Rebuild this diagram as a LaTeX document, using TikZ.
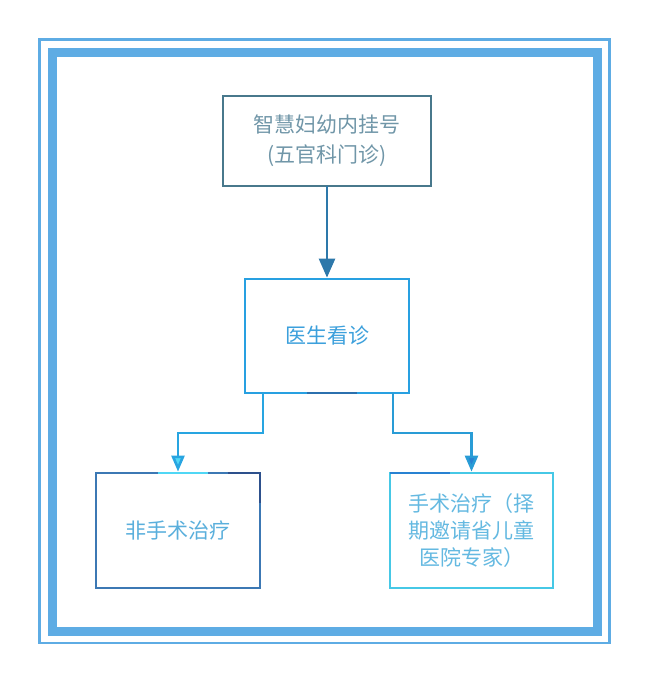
\documentclass[tikz,border=0pt]{standalone}
\usepackage{fontspec}
\newfontfamily\cjk{Noto Sans CJK SC}
\usetikzlibrary{arrows.meta}
\definecolor{frameblue}{RGB}{94,172,228}
\definecolor{topline}{RGB}{72,120,140}
\definecolor{toptext}{RGB}{112,150,168}
\definecolor{midline}{RGB}{40,160,225}
\definecolor{midtext}{RGB}{60,160,220}
\definecolor{leftline}{RGB}{60,120,180}
\definecolor{lefttext}{RGB}{90,175,220}
\definecolor{rightline}{RGB}{70,200,230}
\definecolor{righttext}{RGB}{100,185,225}
\definecolor{arrowA}{RGB}{45,120,170}
\definecolor{arrowB}{RGB}{40,165,225}
\definecolor{cyanhi}{RGB}{80,215,245}
\definecolor{navy}{RGB}{45,80,140}
\definecolor{bluehi}{RGB}{40,130,210}
\tikzset{
  box/.style={draw, line width=2.8pt, fill=white, inner sep=0pt, outer sep=0pt,
    font=\cjk\fontsize{21}{30}\selectfont, align=center},
  link/.style={line width=2.6pt, shorten >=1.4pt},
  accent/.style={line width=2.8pt},
}
\begin{document}
\begin{tikzpicture}[x=1pt,y=-1pt]
\useasboundingbox (0,0) rectangle (650,685);
% frames
\draw[frameblue, line width=2.5pt] (39.5,39.5) rectangle (609.5,643);
\draw[frameblue, line width=9pt] (52.5,52.5) rectangle (597,631);
% nodes
\node[box, draw=topline, text=toptext, minimum width=208pt, minimum height=90pt]
  (reg) at (327,141) {智慧妇幼内挂号\\(五官科门诊)};
\node[box, draw=midline, text=midtext, minimum width=164pt, minimum height=114pt]
  (doc) at (327,336) {医生看诊};
\node[box, draw=leftline, text=lefttext, minimum width=164pt, minimum height=115pt]
  (non) at (178,530.5) {非手术治疗};
\node[box, draw=rightline, text=righttext, minimum width=163pt, minimum height=115pt,
  font=\cjk\fontsize{21}{27}\selectfont]
  (surg) at (471.5,530.5) {手术治疗（择\\期邀请省儿童\\医院专家）};
% border accents (approximate the gradient borders)
\draw[accent, cyanhi] ([xshift=-20pt]non.north) -- ([xshift=30pt]non.north);
\draw[accent, navy] ([xshift=50pt]non.north) -- (non.north east) -- ([yshift=-30pt]non.north east);
\draw[accent, bluehi] (surg.north west) -- ([xshift=60pt]surg.north west);
\draw[accent, navy!60!midline] ([xshift=-20pt]doc.south) -- ([xshift=30pt]doc.south);
% connectors
\draw[link, arrowA, -{Triangle[width=16pt,length=19pt]}] (reg.south) -- (doc.north);
\coordinate (dl) at ([xshift=-64pt]doc.south);
\coordinate (dr) at ([xshift=66pt]doc.south);
\draw[link, arrowB, -{Triangle[width=13pt,length=16pt,fill=cyanhi]}] (dl) -- ++(0,40) -| (non.north);
\draw[link, arrowB!80!arrowA, -{Triangle[width=13pt,length=16pt,fill=bluehi]}] (dr) -- ++(0,40) -| (surg.north);
\end{tikzpicture}
\end{document}
